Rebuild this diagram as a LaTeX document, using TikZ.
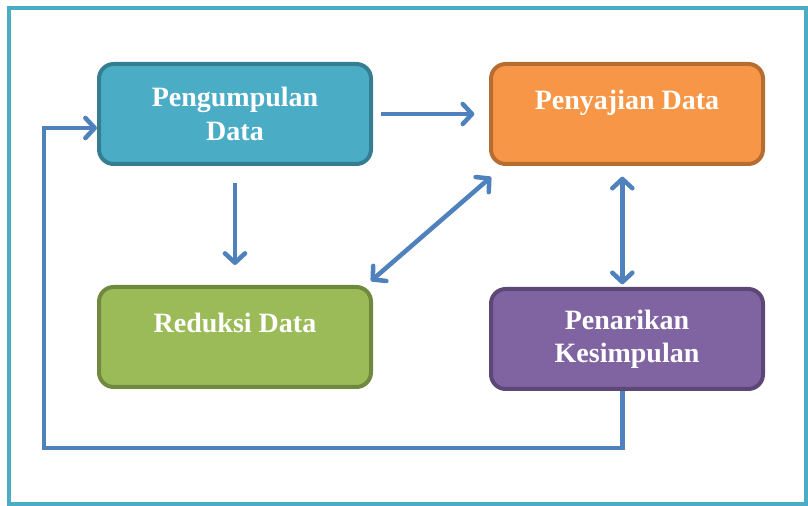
\documentclass[tikz,border=0pt]{standalone}
\usepackage{fontspec}
\setmainfont{Liberation Serif}
\usetikzlibrary{shapes,arrows.meta}

\definecolor{frameblue}{HTML}{4BACC6}
\definecolor{flowblue}{HTML}{4F81BD}
\definecolor{tealfill}{HTML}{4BACC6}
\definecolor{tealline}{HTML}{357D91}
\definecolor{orangefill}{HTML}{F79646}
\definecolor{orangeline}{HTML}{B66D31}
\definecolor{greenfill}{HTML}{9BBB59}
\definecolor{greenline}{HTML}{71893F}
\definecolor{purplefill}{HTML}{8064A2}
\definecolor{purpleline}{HTML}{5C4776}

\begin{document}
\begin{tikzpicture}[x=0.75pt,y=-0.75pt,
                every path/.style={>={Straight Barb[length=7pt,width=15pt,round]}},
                box/.style={draw,rounded corners=11pt,line width=3pt,minimum width=204pt,minimum height=75pt,
                            align=center,text=white,font=\fontsize{21}{25}\selectfont\bfseries},
                oneline/.style={text height=14pt,text depth=20pt},
                flow/.style={draw=flowblue,line width=3.4pt}]
  \useasboundingbox (0,0) rectangle (808,506);
  \draw[frameblue,line width=3pt] (9,8) rectangle (806,504);

  \node[box,fill=tealfill,draw=tealline]             (pd) at (235,114) {Pengumpulan\\Data};
  \node[box,oneline,fill=orangefill,draw=orangeline] (sd) at (627,114) {Penyajian Data};
  \node[box,oneline,fill=greenfill,draw=greenline]   (rd) at (235,337) {Reduksi Data};
  \node[box,fill=purplefill,draw=purpleline]         (pk) at (627,339) {Penarikan\\Kesimpulan};
  \coordinate (back) at (44,448);

  \draw[flow,->,shorten <=6pt,shorten >=11pt] (pd.east) -- (sd.west);
  \draw[flow,->,shorten <=13pt,shorten >=15pt] (pd.south) -- (rd.north);
  \draw[flow,<->] ([shift={(-2,-4)}]rd.north east) -- ([shift={(2,11)}]sd.south west);
  \draw[flow,<->,shorten <=8pt,shorten >=2pt] ([xshift=-3.5pt]sd.south) -- ([xshift=-3.5pt]pk.north);
  \draw[flow,->] ([xshift=-3.5pt]pk.south) |- (back) |- ([yshift=-10.5pt]pd.west);
\end{tikzpicture}
\end{document}
